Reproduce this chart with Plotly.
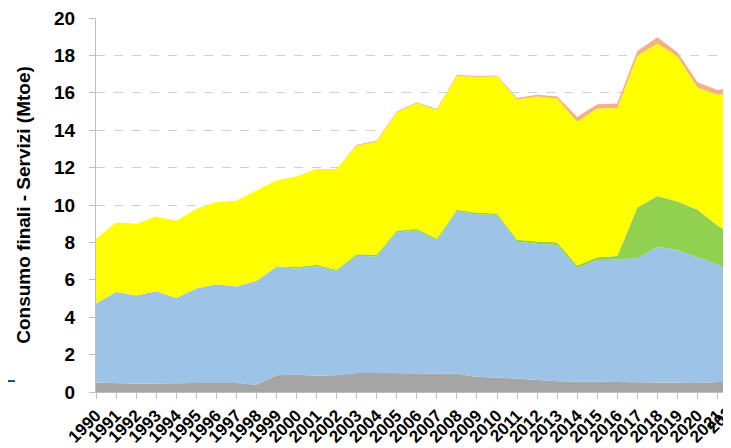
import plotly.graph_objects as go

# Consumi finali settore servizi per fonte (Mtoe)
anni = list(range(1990, 2023))

solidi_altro = [0.51, 0.46, 0.44, 0.46, 0.48, 0.48, 0.48, 0.48, 0.39, 0.90, 0.92,
                0.87, 0.90, 1.01, 1.02, 1.02, 1.02, 0.99, 0.97, 0.80, 0.78,
                0.72, 0.62, 0.58, 0.56, 0.55, 0.53, 0.50, 0.50, 0.50, 0.48, 0.53, 0.53]
gas = [4.22, 4.89, 4.72, 4.93, 4.55, 5.05, 5.28, 5.16, 5.55, 5.78, 5.68,
       5.85, 5.57, 6.28, 6.23, 7.51, 7.61, 7.11, 8.69, 8.70, 8.69,
       7.31, 7.31, 7.27, 6.07, 6.49, 6.56, 6.66, 7.27, 7.09, 6.73, 6.29, 5.57]
rinnovabili = [0, 0, 0, 0, 0, 0, 0, 0, 0, 0.03, 0.08,
               0.09, 0.07, 0.08, 0.09, 0.09, 0.09, 0.09, 0.09, 0.09, 0.08,
               0.11, 0.12, 0.15, 0.14, 0.17, 0.18, 2.71, 2.71, 2.60, 2.54, 2.08, 2.14]
elettricita = [3.46, 3.71, 3.84, 4.00, 4.13, 4.26, 4.40, 4.59, 4.84, 4.60, 4.84,
               5.12, 5.39, 5.80, 6.06, 6.33, 6.73, 6.89, 7.16, 7.26, 7.33,
               7.50, 7.75, 7.69, 7.68, 7.95, 7.92, 8.11, 8.15, 7.75, 6.54, 7.00, 7.84]
calore = [0, 0, 0, 0, 0, 0, 0, 0, 0, 0, 0,
          0, 0, 0.05, 0.05, 0.05, 0.05, 0.05, 0.05, 0.05, 0.05,
          0.08, 0.10, 0.11, 0.25, 0.23, 0.24, 0.26, 0.34, 0.23, 0.27, 0.25, 0.27]

serie = [
    ("Solidi/altro", solidi_altro, "#a5a5a5"),
    ("Gas naturale", gas, "#9dc3e6"),
    ("Rinnovabili", rinnovabili, "#92d050"),
    ("Energia elettrica", elettricita, "#ffff00"),
    ("Calore", calore, "#f4b183"),
]

# la pagina ha un margine di 8px sul body: figura piu' piccola di 8px
W, H = 723, 440
ML, MR, MT, MB = 88, 0, 8, 56
px_anno = 20.05
x_fine = anni[0] + (W - ML - MR) / px_anno
alt_plot = H - MT - MB

fig = go.Figure()
for nome, valori, colore in serie:
    fig.add_trace(go.Scatter(x=anni, y=valori, name=nome, mode="lines",
                             stackgroup="uno", line=dict(width=0, color=colore),
                             fillcolor=colore))

font_b = dict(family="Liberation Sans, Arial", color="black", weight="bold")

fig.update_layout(
    width=W, height=H,
    margin=dict(l=ML, r=MR, t=MT, b=MB),
    plot_bgcolor="white", paper_bgcolor="white",
    showlegend=False,
)
fig.update_xaxes(range=[anni[0], x_fine], tickmode="array", tickvals=anni,
                 ticktext=[str(a) for a in anni], tickangle=-45,
                 tickfont=dict(size=17, **font_b), ticklabeloverflow="allow",
                 ticks="outside", ticklen=6, tickcolor="#bfbfbf",
                 showline=True, linecolor="#bfbfbf", linewidth=1,
                 showgrid=False, zeroline=False)
fig.update_yaxes(range=[0, 20], dtick=2, tickfont=dict(size=19, **font_b),
                 ticklabeloverflow="allow",
                 ticks="outside", ticklen=6, tickcolor="#bfbfbf",
                 ticklabelstandoff=10,
                 showline=True, linecolor="#bfbfbf", linewidth=1,
                 showgrid=True, gridcolor="#d0d0d0", griddash="dash", gridwidth=1,
                 zeroline=False,
                 title=dict(text="Consumo finali - Servizi (Mtoe)",
                            font=dict(size=19, **font_b), standoff=18))

# etichetta 2022 tagliata dal bordo destro
fig.add_annotation(x=(2022 - anni[0]) / (x_fine - anni[0]), y=0, xref="paper", yref="paper",
                   text="2022", textangle=-45, showarrow=False,
                   xanchor="center", yanchor="middle", xshift=-15, yshift=-25,
                   font=dict(size=17, **font_b))

# trattino blu a sinistra (residuo della slide)
fig.add_shape(type="line", xref="paper", yref="paper",
              x0=-ML / (W - ML - MR), x1=-(ML - 7) / (W - ML - MR),
              y0=11 / alt_plot, y1=11 / alt_plot,
              line=dict(color="#1f4e79", width=2))

fig.write_html("out.html")
